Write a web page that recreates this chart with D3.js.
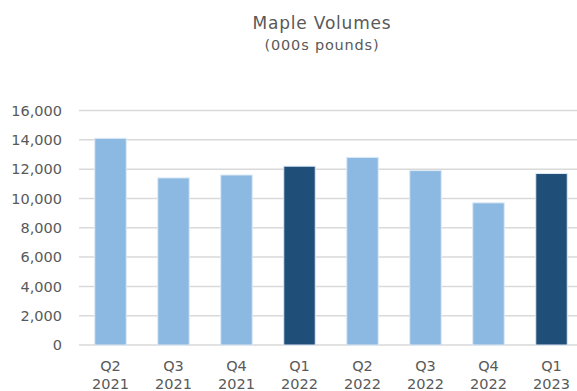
<!DOCTYPE html>
<html>
<head>
<meta charset="utf-8">
<script src="https://cdn.jsdelivr.net/npm/d3@7"></script>
<style>
  body { margin: 0; background: #fff; }
  text { font-family: "DejaVu Sans", sans-serif; fill: #595959; }
</style>
</head>
<body>
<script>
// quarters and volumes (000s pounds)
var quarters = ["Q2", "Q3", "Q4", "Q1", "Q2", "Q3", "Q4", "Q1"];
var years = ["2021", "2021", "2021", "2022", "2022", "2022", "2022", "2023"];
var volumes = [14100, 11400, 11600, 12200, 12800, 11900, 9700, 11700];
var highlight = [false, false, false, true, false, false, false, true];
var yTicks = [0, 2000, 4000, 6000, 8000, 10000, 12000, 14000, 16000];

var width = 577, height = 391;
var plotLeft = 79, plotRight = 583, plotTop = 110.5, plotBottom = 345;

var svg = d3.select("body").append("svg")
	.attr("width", width)
	.attr("height", height);

var x = d3.scaleBand()
	.domain(d3.range(quarters.length))
	.range([plotLeft, plotRight])
	.paddingInner(0.5)
	.paddingOuter(0.25);

var y = d3.scaleLinear()
	.domain([0, 16000])
	.range([plotBottom, plotTop]);

// gridlines
svg.append("g")
	.selectAll("line")
	.data(yTicks)
	.enter().append("line")
	.attr("x1", plotLeft)
	.attr("x2", plotRight)
	.attr("y1", function(d) { return y(d); })
	.attr("y2", function(d) { return y(d); })
	.attr("stroke", "#d9d9d9")
	.attr("stroke-width", 1.5);

// y axis labels
var yAxis = d3.axisLeft(y)
	.tickValues(yTicks)
	.tickSize(0)
	.tickPadding(17)
	.tickFormat(d3.format(","));

var ya = svg.append("g")
	.attr("transform", "translate(" + plotLeft + ",0)")
	.call(yAxis);
ya.select(".domain").remove();
ya.selectAll("text")
	.style("font-size", "14.5px")
	.style("font-family", "'DejaVu Sans', sans-serif")
	.attr("fill", "#595959");

// bars
svg.append("g")
	.selectAll("rect")
	.data(volumes)
	.enter().append("rect")
	.attr("x", function(d, i) { return x(i); })
	.attr("width", x.bandwidth())
	.attr("y", function(d) { return y(d); })
	.attr("height", function(d) { return plotBottom - y(d); })
	.attr("fill", function(d, i) { return highlight[i] ? "#1f4e79" : "#8cb9e2"; })
	.attr("stroke", "#dde9f5")
	.attr("stroke-width", 1);

// x labels
var xl = svg.append("g");
xl.selectAll("text.q")
	.data(quarters)
	.enter().append("text")
	.attr("class", "q")
	.attr("x", function(d, i) { return x(i) + x.bandwidth() / 2; })
	.attr("y", 370.5)
	.attr("text-anchor", "middle")
	.style("font-size", "14.5px")
	.text(function(d) { return d; });
xl.selectAll("text.yr")
	.data(years)
	.enter().append("text")
	.attr("class", "yr")
	.attr("x", function(d, i) { return x(i) + x.bandwidth() / 2; })
	.attr("y", 388.5)
	.attr("text-anchor", "middle")
	.style("font-size", "14.5px")
	.text(function(d) { return d; });

// titles
svg.append("text")
	.attr("x", 322)
	.attr("y", 28.5)
	.attr("text-anchor", "middle")
	.style("font-size", "17px")
	.style("letter-spacing", "0.8px")
	.text("Maple Volumes");
svg.append("text")
	.attr("x", 322)
	.attr("y", 50)
	.attr("text-anchor", "middle")
	.style("font-size", "14.5px")
	.style("letter-spacing", "0.8px")
	.text("(000s pounds)");
</script>
</body>
</html>
